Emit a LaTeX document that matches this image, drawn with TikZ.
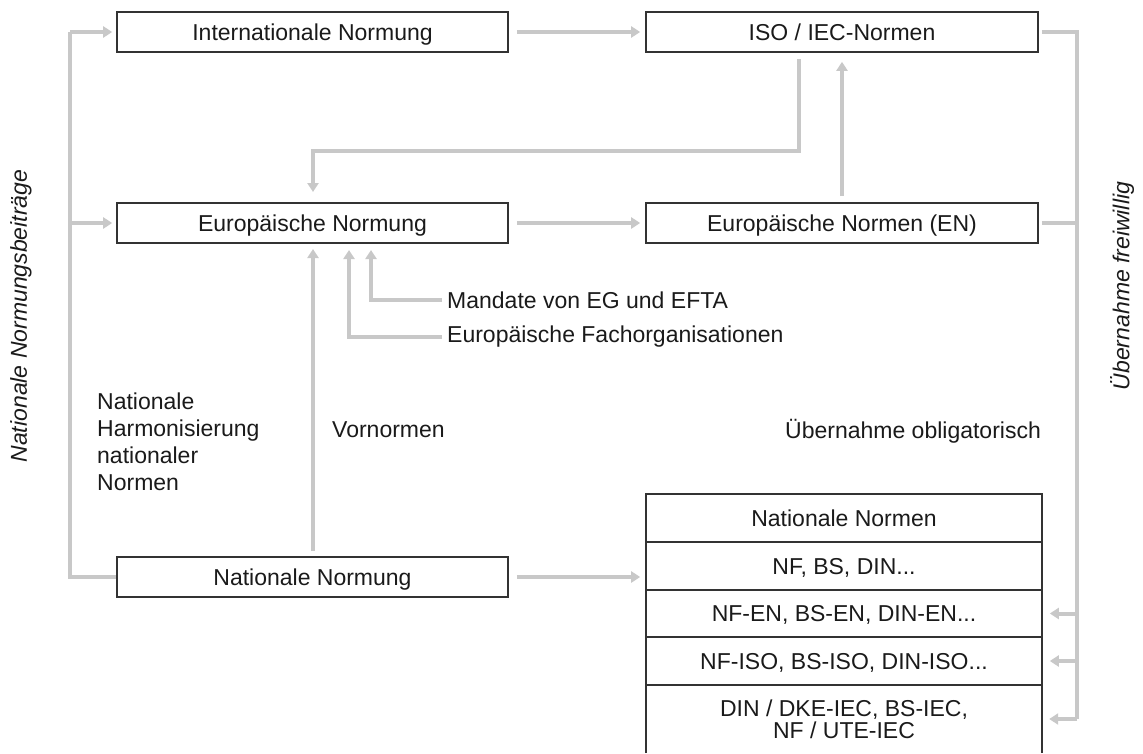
\documentclass[tikz,border=0pt]{standalone}
\usepackage{fontspec}
\setmainfont{Liberation Sans}
\usetikzlibrary{arrows.meta}
\definecolor{conn}{HTML}{C8C8C8}
\definecolor{boxline}{HTML}{333333}
\definecolor{txt}{HTML}{1A1A1A}
\begin{document}
\begin{tikzpicture}[x=1pt,y=-1pt,
  every node/.style={text=txt,font=\fontsize{23}{27}\selectfont},
  nbox/.style={draw=boxline,line width=1.6pt,minimum width=391pt,minimum height=40pt,inner sep=0pt,text height=16.5pt,text depth=0pt},
  wbox/.style={draw=boxline,line width=1.6pt,minimum width=392pt,minimum height=40pt,inner sep=0pt,text height=16.5pt,text depth=0pt},
  trow/.style={draw=boxline,line width=1.6pt,minimum width=396pt,inner sep=0pt,text height=16.5pt,text depth=0pt},
  link/.style={draw=conn,line width=4pt},
  arr/.style={link,-{Triangle[length=9pt,width=11pt]}},
  lbl/.style={inner sep=0pt}]
\useasboundingbox (0,0) rectangle (1143,753);

% boxes
\node[nbox] (intN) at (312.5,32) {Internationale Normung};
\node[wbox] (iso) at (842,32) {ISO / IEC-Normen};
\node[nbox] (euN) at (312.5,223) {Europäische Normung};
\node[wbox] (en) at (842,223) {Europäische Normen (EN)};
\node[nbox] (natN) at (312.5,577) {Nationale Normung};

% table
\node[trow,minimum height=48pt] (r1) at (844,518) {Nationale Normen};
\node[trow,minimum height=48pt] (r2) at (844,566) {NF, BS, DIN...};
\node[trow,minimum height=47pt] (r3) at (844,613.5) {NF-EN, BS-EN, DIN-EN...};
\node[trow,minimum height=48pt] (r4) at (844,661) {NF-ISO, BS-ISO, DIN-ISO...};
\node[minimum width=396pt,minimum height=68pt,inner sep=0pt,align=center,
      font=\fontsize{23}{22}\selectfont] (r5) at (844,719) {DIN / DKE-IEC, BS-IEC,\\NF / UTE-IEC};
\draw[boxline,line width=1.6pt] (r5.south west) -- (r5.north west);
\draw[boxline,line width=1.6pt] (r5.south east) -- (r5.north east);

% labels
\node[lbl,rotate=90,font=\fontsize{23}{27}\selectfont\itshape] (nnb) at (21,316) {Nationale Normungsbeiträge};
\node[lbl,rotate=90,font=\fontsize{23}{27}\selectfont\itshape] (uef) at (1122,286) {Übernahme freiwillig};
\node[lbl,anchor=north west,align=left] (harm) at (97,393) {Nationale\\Harmonisierung\\nationaler\\Normen};
\node[lbl,anchor=west] (vor) at (332,430) {Vornormen};
\node[lbl,anchor=west] (obl) at (785,431) {Übernahme obligatorisch};
\node[lbl,anchor=west] (mand) at (447,300) {Mandate von EG und EFTA};
\node[lbl,anchor=west] (fach) at (447,337) {Europäische Fachorganisationen};

% coordinates for bends
\coordinate (lb) at (70,577);
\coordinate (lt) at (70,32);
\coordinate (lm) at (70,223);
\coordinate (rt) at (1077,32);
\coordinate (rb) at (1077,719);
\coordinate (rm) at (1077,223);
\coordinate (isoDown) at (799,52);
\coordinate (isoBend) at (799,151);
\coordinate (euTop) at (313,203);
\coordinate (euBot) at (313,243);
\coordinate (mTop) at (371,243);
\coordinate (fTop) at (349,243);

% left bus
\draw[link] (natN.west) -- (lb) -- (lt);
\draw[arr,shorten >=4pt] (lt) -- (intN.west);
\draw[arr,shorten >=4pt] (lm) -- (euN.west);

% horizontal flows
\draw[arr,shorten <=8pt,shorten >=5pt] (intN.east) -- (iso.west);
\draw[arr,shorten <=8pt,shorten >=5pt] (euN.east) -- (en.west);
\draw[arr,shorten <=8pt,shorten >=5pt] (natN.east) -- (natN.east -| r2.west);

% EN -> ISO
\draw[arr,shorten <=6pt,shorten >=9pt] (en.north) -- (iso.south);

% ISO -> Europaeische Normung
\draw[arr,shorten <=7pt,shorten >=11pt] (isoDown) -- (isoBend) -| (euTop);

% Nationale Normung -> Europaeische Normung
\draw[arr,shorten <=5pt,shorten >=6pt] (natN.north -| euBot) -- (euBot);

% Mandate / Fachorganisationen
\draw[arr,shorten <=5pt,shorten >=7pt] (mand.west) -| (mTop);
\draw[arr,shorten <=5pt,shorten >=7pt] (fach.west) -| (fTop);

% right bus
\draw[link,shorten <=3pt] (iso.east) -- (rt) -- (rb);
\draw[link,shorten <=3pt] (en.east) -- (rm);
\draw[arr,shorten >=7pt] (rb) -- (rb -| r5.east);
\draw[arr,shorten >=7pt] (rb |- r4.east) -- (r4.east);
\draw[arr,shorten >=7pt] (rb |- r3.east) -- (r3.east);
\end{tikzpicture}
\end{document}
